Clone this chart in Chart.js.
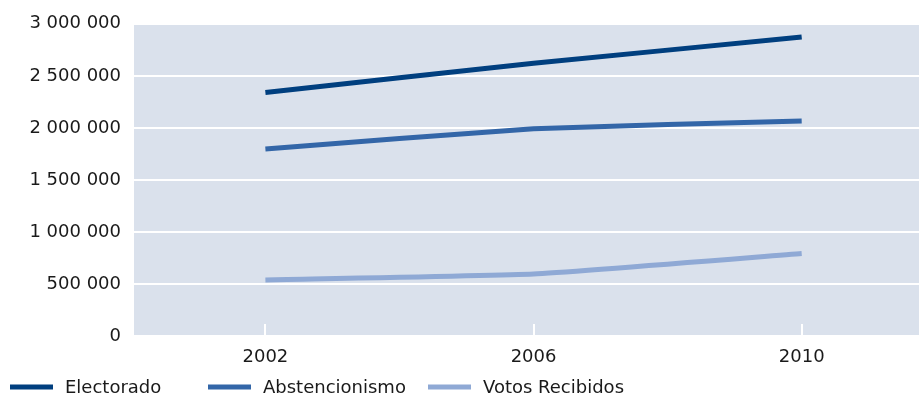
<!DOCTYPE html>
<html>
<head>
<meta charset="utf-8">
<script src="https://cdn.jsdelivr.net/npm/chart.js@4.4.1/dist/chart.umd.min.js"></script>
<style>
html,body{margin:0;padding:0;background:#fff;}
#wrap{width:919px;height:397px;position:relative;}
</style>
</head>
<body>
<div id="wrap"><canvas id="c" width="919" height="397"></canvas></div>
<script>
const years = [2002, 2006, 2010];
const electorado = [2340000, 2620000, 2873000];
const abstencionismo = [1797000, 1992000, 2065000];
const votosRecibidos = [538000, 595000, 792000];
const seriesNames = ['Electorado', 'Abstencionismo', 'Votos Recibidos'];
const yTicks = [0, 500000, 1000000, 1500000, 2000000, 2500000, 3000000];

const colors = ['#003f7f', '#3366a8', '#8fa9d5'];
const FONT = 'DejaVu Sans, Verdana, sans-serif';

function fmt(v){
  return String(v).replace(/\B(?=(\d{3})+(?!\d))/g, ' ');
}

const bgPlugin = {
  id: 'bg',
  beforeDraw(chart){
    const {ctx, chartArea:a} = chart;
    ctx.save();
    ctx.fillStyle = '#dae1ec';
    ctx.fillRect(a.left, a.top, a.right - a.left, a.bottom - a.top);
    ctx.restore();
  },
  beforeDatasetsDraw(chart){
    const {ctx, chartArea:a, scales} = chart;
    ctx.save();
    ctx.strokeStyle = '#ffffff';
    ctx.lineWidth = 2;
    years.forEach(y => {
      const x = Math.round(scales.x.getPixelForValue(y));
      ctx.beginPath();
      ctx.moveTo(x, a.bottom);
      ctx.lineTo(x, a.bottom - 12);
      ctx.stroke();
    });
    ctx.restore();
  }
};

const legendStarts = [10, 208, 428];
const legendPlugin = {
  id: 'customLegend',
  afterDraw(chart){
    const ctx = chart.ctx;
    ctx.save();
    ctx.font = '18px ' + FONT;
    ctx.textBaseline = 'middle';
    const yc = 387;
    chart.data.datasets.forEach((ds, i) => {
      const x = legendStarts[i];
      ctx.fillStyle = ds.borderColor;
      ctx.fillRect(x, yc - 2.5, 43, 5);
      ctx.fillStyle = '#1a1a1a';
      ctx.fillText(ds.label, x + 55, yc + 1);
    });
    ctx.restore();
  }
};

const dataSets = [electorado, abstencionismo, votosRecibidos].map((vals, i) => ({
  label: seriesNames[i],
  data: years.map((y, j) => ({x: y, y: vals[j]})),
  borderColor: colors[i],
  backgroundColor: colors[i],
  borderWidth: 5,
  pointRadius: 0,
  tension: 0.12,
  borderCapStyle: 'butt',
  fill: false
}));

new Chart(document.getElementById('c'), {
  type: 'line',
  data: { datasets: dataSets },
  options: {
    responsive: false,
    animation: false,
    devicePixelRatio: 1,
    layout: { padding: { left: 0, right: 0, top: 20, bottom: 25 } },
    plugins: { legend: { display: false }, tooltip: { enabled: false } },
    scales: {
      x: {
        type: 'linear',
        min: 2000.04,
        max: 2011.75,
        afterBuildTicks(scale){ scale.ticks = years.map(v => ({value: v})); },
        afterFit(scale){ scale.height = 36; },
        grid: { display: false },
        border: { display: false },
        ticks: {
          color: '#1a1a1a',
          font: { family: FONT, size: 18 },
          padding: 3,
          autoSkip: false,
          maxRotation: 0,
          callback: v => String(v)
        }
      },
      y: {
        min: 0,
        max: 3000000,
        afterBuildTicks(scale){ scale.ticks = yTicks.map(v => ({value: v})); },
        afterFit(scale){ scale.width = 134; },
        grid: { color: '#ffffff', lineWidth: 2, drawTicks: false },
        border: { display: false },
        ticks: {
          color: '#1a1a1a',
          font: { family: FONT, size: 18 },
          padding: 13,
          callback: v => fmt(v)
        }
      }
    }
  },
  plugins: [bgPlugin, legendPlugin]
});
</script>
</body>
</html>
